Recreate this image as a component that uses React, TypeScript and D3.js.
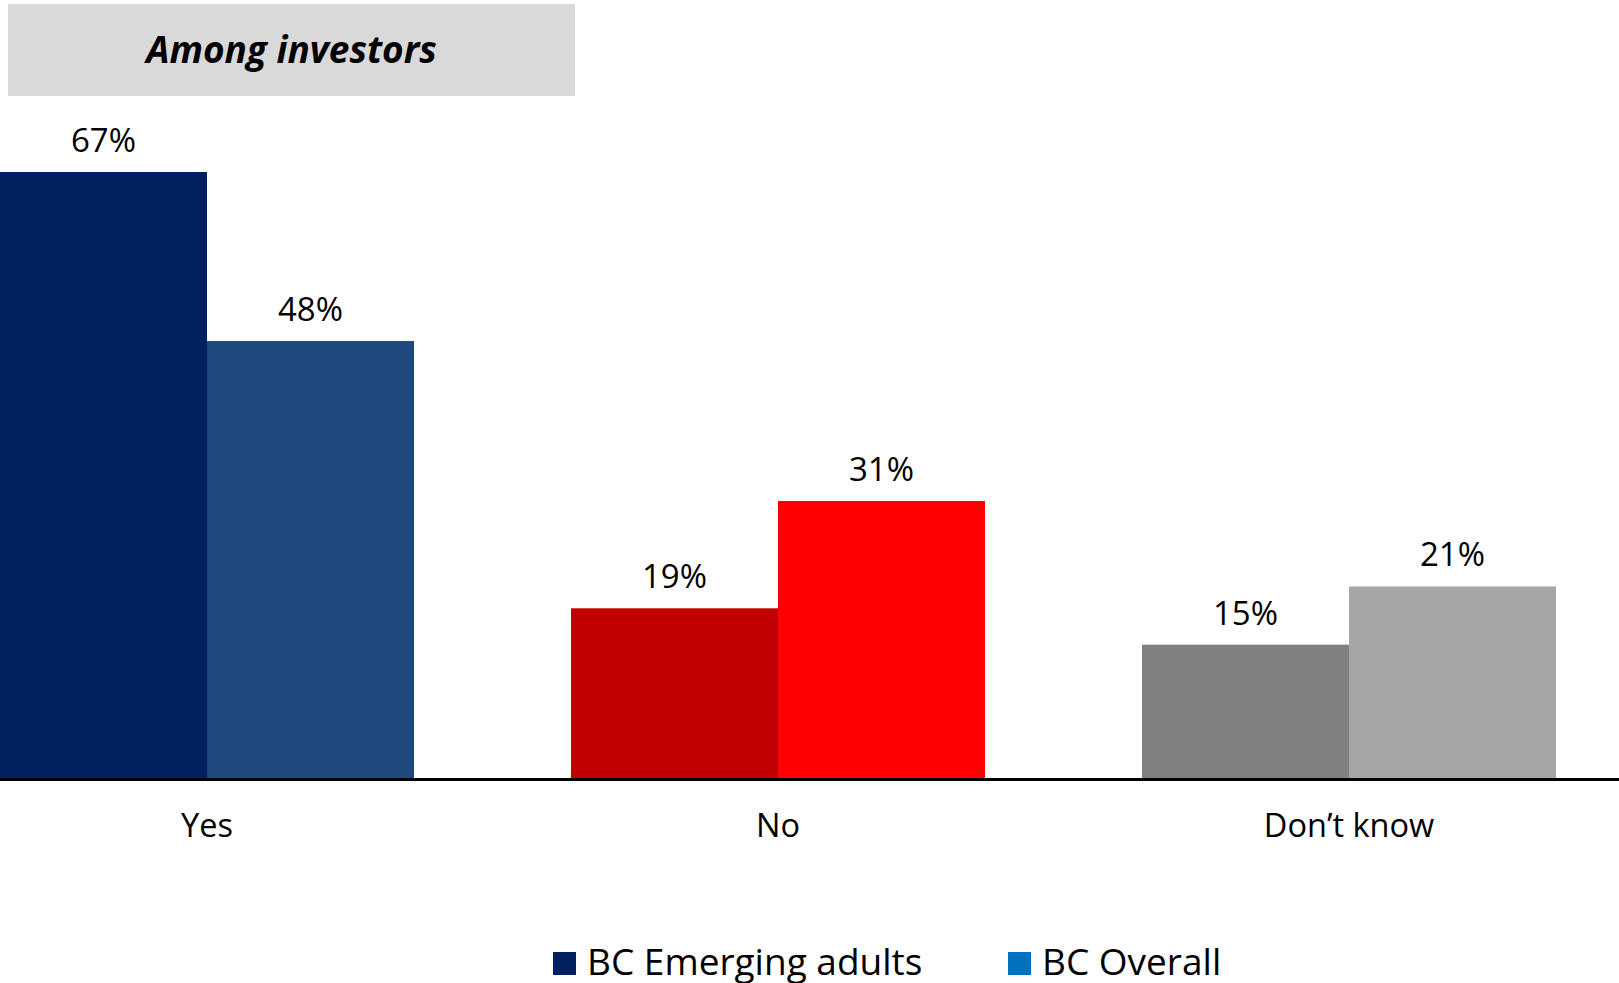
import React from "react";
import * as d3 from "d3";

const categories = ["Yes", "No", "Don’t know"];
const seriesNames = ["BC Emerging adults", "BC Overall"];
const emergingValues = [67, 19, 15];
const overallValues = [48.4, 30.8, 21.4];
const barColors = [
  ["#002060", "#1F497D"],
  ["#C00000", "#FF0000"],
  ["#808080", "#A6A6A6"],
];
const legendColors = ["#002060", "#0070C0"];
const titleText = "Among investors";

const W = 1619;
const H = 983;
const FONT = "'Open Sans', 'Noto Sans', sans-serif";
const fmt = (v: number) => `${d3.format(".0f")(v)}%`;

export default function App() {
  const x0 = d3
    .scaleBand<string>()
    .domain(categories)
    .range([-78.5, 1634.5])
    .paddingInner(0.275)
    .paddingOuter(0.1375);
  const x1 = d3
    .scaleBand<string>()
    .domain(seriesNames)
    .range([0, x0.bandwidth()])
    .padding(0);
  const y = d3.scaleLinear().domain([0, 100]).range([781, 781 - 909]);

  const rows = categories.map((c, i) => ({
    cat: c,
    vals: [emergingValues[i], overallValues[i]],
    colors: barColors[i],
  }));

  const legendX = [553, 1008];

  return (
    <svg
      width={W}
      height={H}
      style={{ position: "absolute", left: 0, top: 0, background: "#fff" }}
      fontFamily={FONT}
    >
      <rect x={8} y={4} width={567} height={92} fill="#D9D9D9" />
      <text
        x={291.5}
        y={63}
        textAnchor="middle"
        fontSize={37}
        fontWeight="bold"
        fontStyle="italic"
        fill="#000"
      >
        {titleText}
      </text>

      {rows.map((r) => (
        <g key={r.cat} transform={`translate(${x0(r.cat)},0)`}>
          {r.vals.map((v, j) => {
            const bx = x1(seriesNames[j])!;
            const bw = x1.bandwidth();
            return (
              <g key={j}>
                <rect
                  x={bx}
                  y={y(v)}
                  width={bw}
                  height={y(0) - y(v)}
                  fill={r.colors[j]}
                />
                <text
                  x={bx + bw / 2}
                  y={y(v) - 20}
                  textAnchor="middle"
                  fontSize={33}
                  fill="#000"
                >
                  {fmt(v)}
                </text>
              </g>
            );
          })}
          <text
            x={x0.bandwidth() / 2}
            y={837}
            textAnchor="middle"
            fontSize={32.5}
            fill="#000"
          >
            {r.cat}
          </text>
        </g>
      ))}

      <line x1={0} x2={W} y1={779.5} y2={779.5} stroke="#000" strokeWidth={3} />

      {seriesNames.map((s, i) => (
        <g key={s}>
          <rect x={legendX[i]} y={952} width={23} height={23} fill={legendColors[i]} />
          <text x={legendX[i] + 34} y={975} fontSize={37} fill="#000">
            {s}
          </text>
        </g>
      ))}
    </svg>
  );
}
